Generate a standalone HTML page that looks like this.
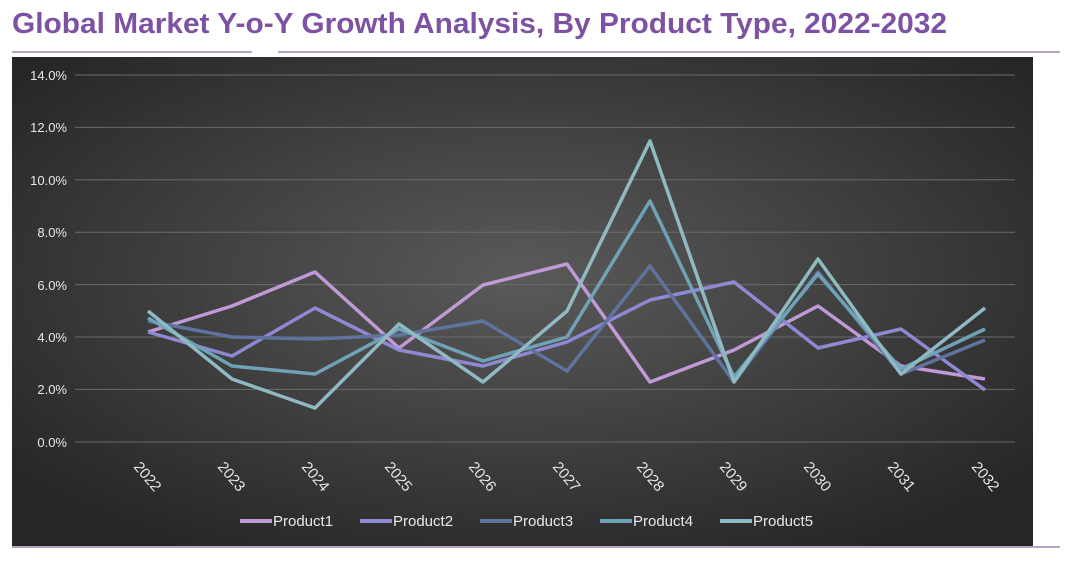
<!DOCTYPE html>
<html><head><meta charset="utf-8"><style>
body{margin:0;width:1070px;height:560px;background:#fff;overflow:hidden;font-family:"Liberation Sans",sans-serif}
</style></head><body>
<svg width="1070" height="560" xmlns="http://www.w3.org/2000/svg">
<defs>
<radialGradient id="bg" cx="50%" cy="45%" r="65%">
<stop offset="0" stop-color="#5a5a5a"/><stop offset="1" stop-color="#262626"/>
</radialGradient>
</defs>
<text x="12" y="33" font-family="Liberation Sans, sans-serif" font-weight="bold" font-size="29" fill="#7d52a3" textLength="935" lengthAdjust="spacingAndGlyphs">Global Market Y-o-Y Growth Analysis, By Product Type, 2022-2032</text>
<line x1="12" y1="52" x2="252" y2="52" stroke="#9a86b0" stroke-width="1.5"/>
<line x1="278" y1="52" x2="1060" y2="52" stroke="#9a86b0" stroke-width="1.5"/>
<rect x="12" y="57" width="1021" height="489" fill="url(#bg)"/>
<line x1="12" y1="547" x2="1060" y2="547" stroke="#9a86b0" stroke-width="1.5"/>
<g stroke="#6a6a6a" stroke-width="1">
<line x1="75" y1="75" x2="1015" y2="75"/><line x1="75" y1="127.4" x2="1015" y2="127.4"/>
<line x1="75" y1="179.8" x2="1015" y2="179.8"/><line x1="75" y1="232.2" x2="1015" y2="232.2"/>
<line x1="75" y1="284.6" x2="1015" y2="284.6"/><line x1="75" y1="337" x2="1015" y2="337"/>
<line x1="75" y1="389.4" x2="1015" y2="389.4"/><line x1="75" y1="442" x2="1015" y2="442"/>
</g>
<g fill="#e8e8e8" font-size="13" text-anchor="end">
<text x="67" y="80">14.0%</text><text x="67" y="132">12.0%</text><text x="67" y="185">10.0%</text>
<text x="67" y="237">8.0%</text><text x="67" y="290">6.0%</text><text x="67" y="342">4.0%</text>
<text x="67" y="394">2.0%</text><text x="67" y="447">0.0%</text>
</g>
<g fill="#e8e8e8" font-size="15">
<text transform="translate(133,467) rotate(50)">2022</text>
<text transform="translate(217,467) rotate(50)">2023</text>
<text transform="translate(301,467) rotate(50)">2024</text>
<text transform="translate(384,467) rotate(50)">2025</text>
<text transform="translate(468,467) rotate(50)">2026</text>
<text transform="translate(552,467) rotate(50)">2027</text>
<text transform="translate(636,467) rotate(50)">2028</text>
<text transform="translate(719,467) rotate(50)">2029</text>
<text transform="translate(803,467) rotate(50)">2030</text>
<text transform="translate(887,467) rotate(50)">2031</text>
<text transform="translate(971,467) rotate(50)">2032</text>
</g>
<g fill="none" stroke-width="3.5" stroke-linejoin="round">
<polyline stroke="#c09ad6" points="148,332 232,306 315,272 399,348 483,285 567,264 650,382 734,350 818,306 901,366 985,379"/>
<polyline stroke="#8f88d2" points="148,332 232,356 315,308 399,350 483,366 567,342 650,300 734,282 818,348 901,329 985,390"/>
<polyline stroke="#5f739e" points="148,321 232,337 315,339 399,335 483,321 567,371 650,266 734,382 818,272 901,374 985,340"/>
<polyline stroke="#6fa2b6" points="148,318 232,366 315,374 399,329 483,361 567,337 650,201 734,377 818,274 901,369 985,329"/>
<polyline stroke="#8fbac2" points="148,311 232,379 315,408 399,324 483,382 567,311 650,141 734,382 818,259 901,374 985,308"/>
</g>
<g font-size="15" fill="#e8e8e8" stroke-width="4">
<line x1="240" y1="521" x2="272" y2="521" stroke="#c09ad6"/><text x="273" y="526">Product1</text>
<line x1="360" y1="521" x2="392" y2="521" stroke="#8f88d2"/><text x="393" y="526">Product2</text>
<line x1="480" y1="521" x2="512" y2="521" stroke="#5f739e"/><text x="513" y="526">Product3</text>
<line x1="600" y1="521" x2="632" y2="521" stroke="#6fa2b6"/><text x="633" y="526">Product4</text>
<line x1="720" y1="521" x2="752" y2="521" stroke="#8fbac2"/><text x="753" y="526">Product5</text>
</g>
</svg>
</body></html>
